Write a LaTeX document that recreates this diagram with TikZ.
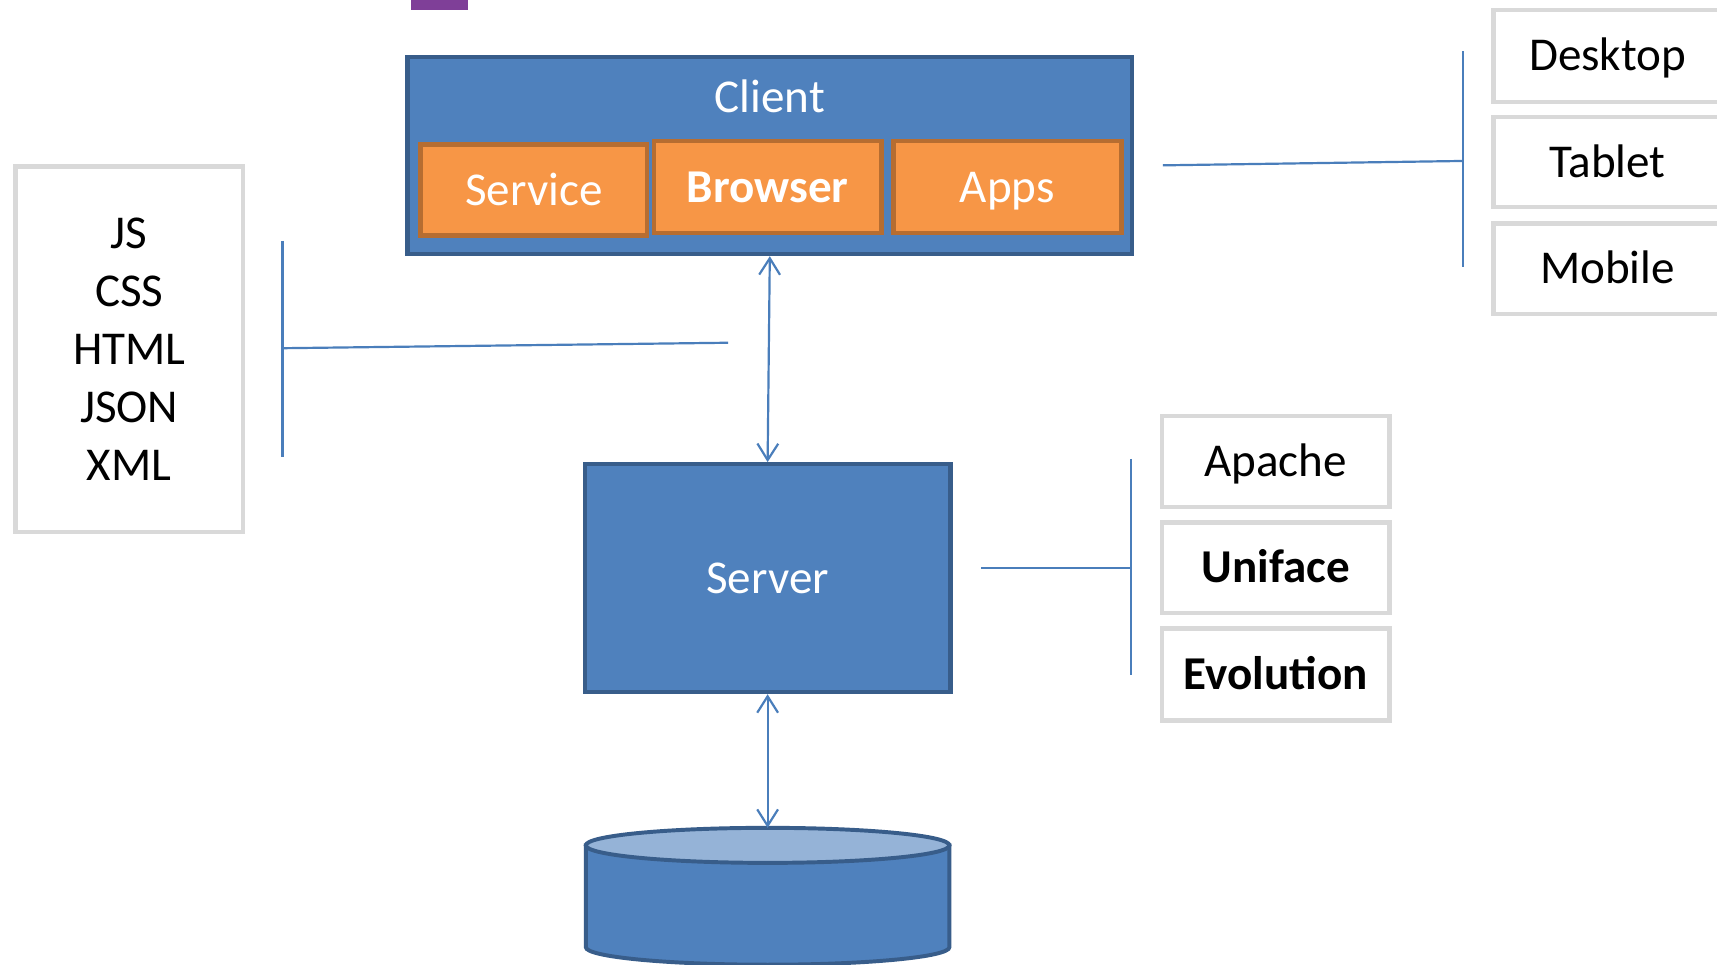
\documentclass[tikz,border=0pt]{standalone}
\usepackage{fontspec}
\setmainfont{Carlito}
\usetikzlibrary{arrows.meta}
\definecolor{cblue}{HTML}{4F81BD}
\definecolor{cblueb}{HTML}{385D8A}
\definecolor{corange}{HTML}{F79646}
\definecolor{corangeb}{HTML}{B66D31}
\definecolor{cgray}{HTML}{D9D9D9}
\definecolor{cline}{HTML}{4A7EBB}
\definecolor{ctop}{HTML}{95B3D7}
\definecolor{cpurple}{HTML}{7F3F98}
\begin{document}
\begin{tikzpicture}[x=0.5pt,y=-0.5pt,
  font=\fontsize{21.5pt}{26.5pt}\selectfont,
  capc/.style={text height=13.8pt, text depth=0pt},
  bluebox/.style={draw=cblueb, fill=cblue, line width=2pt, text=white, inner sep=0pt, capc},
  orangebox/.style={draw=corangeb, fill=corange, line width=2pt, text=white, inner sep=0pt, minimum width=104pt, minimum height=42pt, capc},
  graybox/.style={draw=cgray, fill=white, line width=2pt, inner sep=0pt, minimum width=104pt, minimum height=41.5pt, capc},
  listbox/.style={draw=cgray, fill=white, line width=2pt, inner sep=0pt, align=center},
  conn/.style={draw=cline, line width=1pt},
  arr/.style={conn, {Straight Barb[length=7.5pt,width=9.5pt]}-{Straight Barb[length=7.5pt,width=9.5pt]}}]
\useasboundingbox (0,0) rectangle (1568,881);
\clip (0,0) rectangle (1568,881);
\fill[white] (0,0) rectangle (1568,881);

% purple mark
\fill[cpurple] (375,-5) rectangle (427,9);

% client
\node[bluebox, minimum width=331pt, minimum height=90pt] (client) at (703,142) {};
\node[text=white, capc, inner sep=0pt] (clientlbl) at (703,89) {Client};
\node[orangebox, minimum width=103.5pt, minimum height=41.5pt] (service) at (487.5,173.5) {Service};
\node[orangebox, font=\fontsize{21.5pt}{26.5pt}\selectfont\bfseries] (browser) at (701,171) {Browser};
\node[orangebox] (apps) at (920,171) {Apps};

% server
\node[bluebox, minimum width=167pt, minimum height=104pt] (server) at (701,528) {Server};

% database cylinder
\filldraw[draw=cblueb, fill=cblue, line width=1.8pt]
  (535,772) -- (535,865) arc[start angle=180, end angle=0, x radius=166, y radius=16] -- (867,772) -- cycle;
\filldraw[draw=cblueb, fill=ctop, line width=1.8pt] (701,772) ellipse[x radius=166, y radius=16];
\coordinate (dbtop) at (701,756);

% left list
\node[listbox, minimum width=104pt, minimum height=167pt] (tech) at (118,319)
  {JS\\CSS\\HTML\\JSON\\XML};

% devices
\node[graybox, minimum height=42pt] (desktop) at (1468,51) {Desktop};
\node[graybox, minimum height=41pt] (tablet) at (1468,148) {Tablet};
\node[graybox] (mobile) at (1468,245.5) {Mobile};

% server products
\node[graybox] (apache) at (1165,421.5) {Apache};
\node[graybox, font=\fontsize{21.5pt}{26.5pt}\selectfont\bfseries] (uniface) at (1165,518.5) {Uniface};
\node[graybox, minimum height=42pt, font=\fontsize{21.5pt}{26.5pt}\selectfont\bfseries] (evolution) at (1165,616) {Evolution};

% arrows
\draw[arr] (client.south) -- (server.north);
\draw[arr] (server.south) -- (dbtop);

% bracket coordinates
\coordinate (lbtop) at (258,220);
\coordinate (lbbot) at (258,417);
\coordinate (lbmid) at (258,318);
\coordinate (lbend) at (665,313);
\coordinate (rbtop) at (1336,47);
\coordinate (rbbot) at (1336,244);
\coordinate (rbmid) at (1336,147);
\coordinate (rbend) at (1062,151);
\coordinate (sbtop) at (1033,419);
\coordinate (sbbot) at (1033,616);
\coordinate (sbmid) at (1033,519);
\coordinate (sbend) at (896,519);

\draw[conn] (lbtop) -- (lbbot);
\draw[conn] (lbmid) -- (lbend);
\draw[conn] (rbtop) -- (rbbot);
\draw[conn] (rbend) -- (rbmid);
\draw[conn] (sbtop) -- (sbbot);
\draw[conn] (sbend) -- (sbmid);
\end{tikzpicture}
\end{document}
